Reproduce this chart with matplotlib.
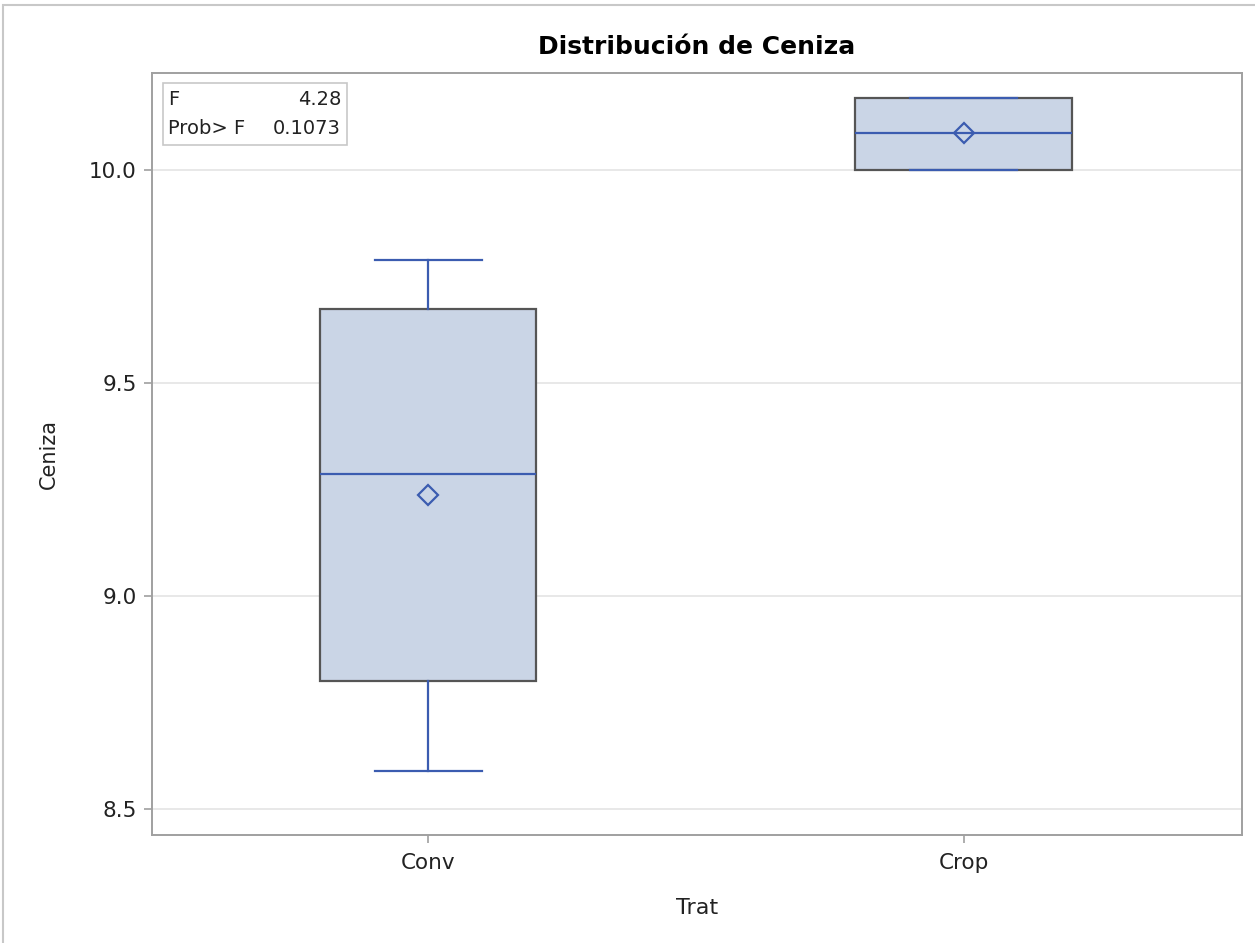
import matplotlib
matplotlib.use("Agg")
import matplotlib.pyplot as plt
from matplotlib.patches import Rectangle

plt.rcParams["font.family"] = ["DejaVu Sans"]

# datos
trat = ["Conv", "Crop"]
whislo = [8.589, 10.0]
q1 = [8.80, 10.0]
med = [9.286, 10.087]
q3 = [9.674, 10.169]
whishi = [9.789, 10.169]
media = [9.237, 10.087]
f_val = "4.28"
prob_f = "0.1073"
yticks = [8.5, 9.0, 9.5, 10.0]

azul = "#3b5cb0"
gris = "#555555"
texto = "#222222"

fig = plt.figure(figsize=(12.55, 9.43), dpi=100)
ax = fig.add_axes([0.1211, 0.1145, 0.8685, 0.8078])

stats = []
for i, lab in enumerate(trat):
    stats.append(dict(label=lab, whislo=whislo[i], q1=q1[i], med=med[i],
                      q3=q3[i], whishi=whishi[i], mean=media[i], fliers=[]))

ax.bxp(stats, positions=range(len(trat)), widths=0.404, patch_artist=True,
       showmeans=True, showfliers=False,
       boxprops=dict(facecolor="#cad5e6", edgecolor=gris, linewidth=1.6),
       medianprops=dict(color=azul, linewidth=1.6),
       whiskerprops=dict(color=azul, linewidth=1.6),
       capprops=dict(color=azul, linewidth=1.6),
       capwidths=0.2,
       meanprops=dict(marker="D", markersize=10, markerfacecolor="none",
                      markeredgecolor=azul, markeredgewidth=1.6))

ax.set_xlim(-0.516, 1.52)
ax.set_ylim(8.439, 10.228)
ax.set_yticks(yticks)
ax.set_yticklabels([f"{v:.1f}" for v in yticks])
ax.yaxis.grid(True, color="#e4e4e4", linewidth=1.2)
ax.set_axisbelow(True)
for s in ax.spines.values():
    s.set_color("#a0a0a0")
    s.set_linewidth(1.4)
ax.tick_params(colors="#a0a0a0", labelcolor=texto, labelsize=15.5,
               length=6, width=1.2)
ax.tick_params(axis="x", pad=7)
ax.tick_params(axis="y", pad=5)

ax.set_xlabel("Trat", fontsize=16, color=texto, labelpad=18)
ax.set_ylabel("Ceniza", fontsize=15, color=texto, labelpad=22)
ax.set_title("Distribución de Ceniza", fontsize=18, fontweight="bold", pad=14)

# cuadro de estadísticos
ax.add_patch(Rectangle((0.0101, 0.9055), 0.169, 0.0815, transform=ax.transAxes,
                       facecolor="white", edgecolor="#c8c8c8", linewidth=1.2,
                       zorder=5))
ax.text(0.0145, 0.966, "F", transform=ax.transAxes, fontsize=14,
        va="center", ha="left", color=texto, zorder=6)
ax.text(0.1735, 0.966, f_val, transform=ax.transAxes, fontsize=14,
        va="center", ha="right", color=texto, zorder=6)
ax.text(0.0145, 0.928, "Prob> F", transform=ax.transAxes, fontsize=14,
        va="center", ha="left", color=texto, zorder=6)
ax.text(0.1735, 0.928, prob_f, transform=ax.transAxes, fontsize=14,
        va="center", ha="right", color=texto, zorder=6)

# marco exterior
fig.add_artist(Rectangle((0.0024, -0.01), 1.0, 1.0047,
                         transform=fig.transFigure, fill=False,
                         edgecolor="#c8c8c8", linewidth=1.5))

fig.savefig("out.png", dpi=100)
